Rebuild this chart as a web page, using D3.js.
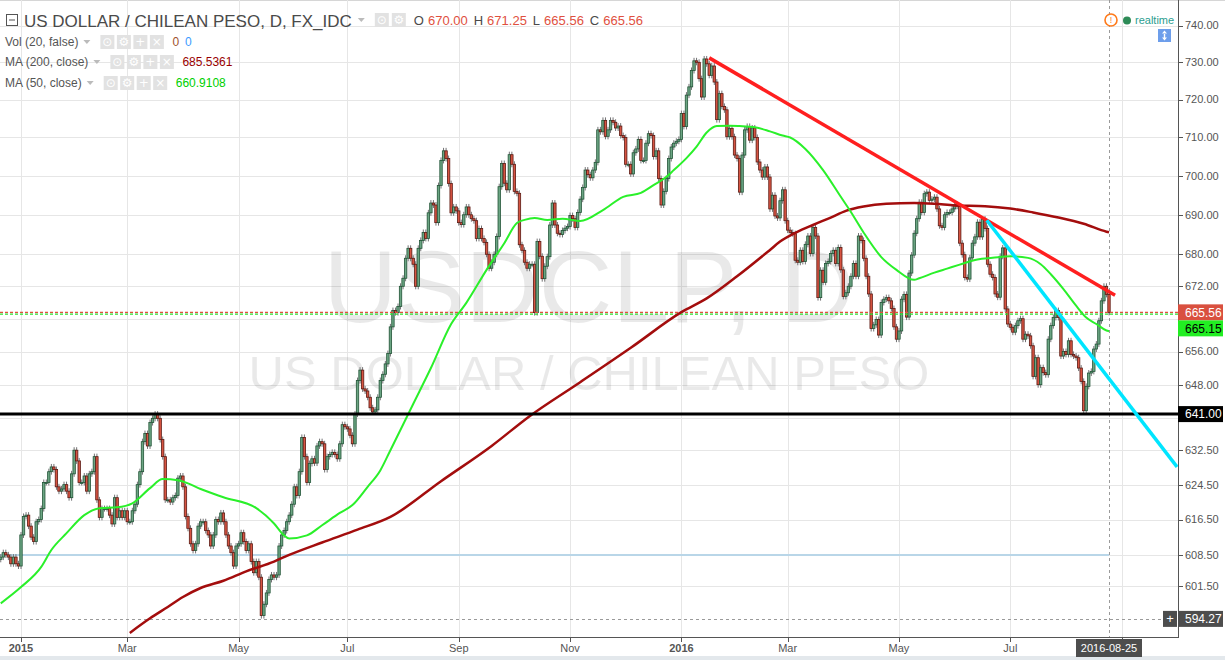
<!DOCTYPE html>
<html>
<head>
<meta charset="utf-8">
<script src="https://cdn.jsdelivr.net/npm/d3@7"></script>
<style>
  body { margin: 0; background: #fff; }
  svg { display: block; font-family: "Liberation Sans", Arial, sans-serif; }
</style>
</head>
<body>
<div id="chart"></div>
<script>
'use strict';

// Daily bars, one per weekday, starting Mon 2014-12-22. Open = previous close.
const firstBar = new Date(2014, 11, 22);
const firstOpen = 607.5;
const closes = [
  // Dec 2014
  608, 609, 608.5, 608, 606.5, 608, 606.5, 606,
  // Jan - Apr 2015
  613, 617.2, 617.5, 615, 612.5, 611.5, 616, 616.5, 619, 625,
  625, 627.5, 628.6, 628, 624, 623, 623.5, 624.5, 623, 621.5,
  627, 632.5, 630, 625, 625, 626.5, 623, 627, 627.5, 631,
  621, 617, 619, 619, 619, 617.5, 615.5, 621.5, 617, 618.5,
  617, 618.5, 616, 616, 618.5, 620, 624.5, 627.5, 634.5, 636.4,
  633.5, 639, 640, 641, 640, 635, 631, 621, 621, 620.5,
  621.5, 622, 626, 626.5, 624, 617.2, 614.5, 611, 609.5, 611,
  615,
  // Apr - Jul 2015
  616, 616, 614, 613, 610.5, 613, 616.5, 616, 618, 616,
  613, 610.5, 609, 606, 610.5, 611, 613.5, 611.5, 609.5, 611,
  607, 604.5, 607, 603.5, 595, 597.5, 600, 603, 604, 603.5,
  604, 610.5, 613, 614, 616, 617.5, 620, 624, 622, 627.5,
  635.5, 631, 625, 629.4, 630.5, 629.5, 633.5, 634.5, 634, 628,
  631, 631.5, 632, 631.5, 630.5, 634, 638.5, 638, 637.5, 636,
  634, 641, 649, 651.5, 647, 646.5, 645, 642.5, 641.5, 642,
  645, 649, 650.5, 653, 655.5,
  // Aug - Nov 2015
  662, 666, 665.5, 667, 672, 674, 679, 681.5, 679, 677.5,
  672, 681.5, 683.5, 685.5, 684, 690.5, 693, 692.5, 688, 697.5,
  704, 706.5, 704.5, 698, 690.5, 692, 691, 688, 687.5, 690,
  692, 690, 689, 688.5, 684, 686.5, 684, 683, 680, 676.5,
  678, 680, 684.5, 697.2, 703.2, 698.1, 696.4, 705.5, 703, 696,
  695.5, 682.4, 681, 678, 676.5, 677.5, 677.5, 665.5, 683.2, 679.5,
  673.9, 677, 679.4, 687.4, 693, 687.4, 685.3, 685, 686, 686.6,
  687, 689.8, 689, 686.8, 690.6,
  // Nov 2015 - Feb 2016
  694, 697, 701.5, 700.3, 699.5, 701.5, 703.5, 712, 711.5, 714.5,
  710.3, 712, 714.5, 714, 712.5, 713, 710.5, 710, 703, 703,
  700.5, 706, 707, 709.5, 704, 704, 708.5, 711, 710.5, 705,
  706.5, 699.3, 692.5, 696, 699.3, 704.5, 707.5, 708.5, 709, 709.5,
  716.3, 712.9, 721.2, 723.4, 727.8, 730.4, 730, 725.6, 720.7, 730.9,
  729.6, 726.5, 729, 724.7, 714.7, 721.6, 718.2, 717.3, 710.2, 712.4,
  710.2, 705.4, 704.5, 695.8, 705.4, 712, 712.9, 709.3, 712.5, 710,
  703.6, 701.5, 699.7, 702.3, 699.7, 691.5, 695, 689.7, 689.2, 693.6,
  696.4, 688.5, 686.1,
  // Mar - Jun 2016
  685.5, 685.2, 678.5, 678, 681, 678.2, 682.5, 684.6, 680.2, 686.8,
  684.6, 669.2, 676, 673, 677.7, 678.2, 680.2, 681, 677.7, 681.7,
  676.1, 669.5, 670.4, 672, 674.5, 677.7, 674.5, 684.6, 683.5, 679,
  674.5, 670.1, 661.6, 662.5, 663.8, 660, 668, 668.8, 669.2, 668.4,
  666.5, 662, 659, 661, 668.8, 670, 664.4, 675.3, 679.8, 685.3,
  689, 693.2, 690.6, 695.4, 695.8, 693.7, 694, 694.5, 691.5, 687.2,
  686.8, 690, 690.6, 690.6, 691.5, 692.6, 692.2,
  // Jun - Aug 2016
  682.8, 679.9, 674.2, 673.8, 679.1, 682.8, 684.4, 688.1, 684.4, 688.9,
  686.5, 677.5, 675, 674.2, 670.1, 669.3, 679.5, 681.6, 666.4, 662.7,
  661.9, 660.7, 662.3, 663.5, 664, 659, 660.2, 659.8, 657.4, 650,
  654.5, 648, 652.1, 650.9, 650.4, 659, 662.3, 664.3, 666, 664.3,
  654.9, 656, 655.3, 658.6, 655.3, 654.9, 654.5, 652, 648.8, 641.8,
  647.6, 650.8, 651.2, 656.6, 657.8, 663.5, 668.4, 672, 670, 665.56
];

// Moving averages: [bar number, value]
const ma50 = [
  [0, 597.7], [8, 601.3], [16, 605.8], [20, 609.6], [26, 613.4], [33, 617.5],
  [39, 619.1], [46, 619.3], [52, 620.2], [59, 623.7], [64, 625.8], [70, 625.5],
  [74, 624.8], [79, 623.5], [88, 621.6], [101, 619.1], [108, 615.6], [112, 612.9],
  [114, 612.2], [121, 612.9], [127, 615.2], [134, 618], [139, 619.8], [145, 624.0],
  [150, 627.8], [154, 632.5], [163, 643.4], [170, 652.0], [178, 662.7], [184, 667.9],
  [192, 676.1], [199, 682.8], [204, 687.9], [207, 688.7], [211, 689.2], [216, 688.7],
  [222, 689.0], [229, 688.4], [238, 691.2], [246, 694.6], [253, 695.6], [258, 697.6],
  [263, 699.7], [266, 701.5], [271, 704.6], [275, 707.6], [279, 711.3], [283, 713],
  [288, 713.1], [292, 713], [298, 712.7], [304, 711.6], [309, 710.5], [312, 710],
  [318, 707], [325, 701.5], [332, 694.6], [336, 690.7], [341, 685.5], [348, 679.3],
  [354, 676.1], [361, 673.6], [363, 674.0], [369, 675.4], [374, 676.4], [379, 677.4],
  [386, 678.7], [392, 679.1], [399, 679.5], [406, 679.1], [411, 677.5], [415, 675],
  [420, 671.3], [425, 667.2], [429, 664.3], [433, 662.7], [437, 661.1], [438, 660.91]
];
const ma200 = [
  [51, 591.2], [59, 594.4], [66, 596.9], [72, 599.1], [79, 601.1], [88, 602.7],
  [97, 604.8], [108, 607.0], [114, 608.5], [127, 611.3], [141, 614.2], [154, 617.1],
  [174, 625.3], [194, 633.5], [209, 640.5], [229, 648.6], [249, 656.9], [269, 665.6],
  [279, 669.0], [291, 674.5], [304, 681.1], [308, 683.2], [315, 685.7], [321, 687.4],
  [328, 689.3], [334, 691.0], [341, 692.1], [350, 692.8], [361, 693], [369, 692.8],
  [377, 692.4], [389, 692.2], [399, 691.6], [408, 690.6], [418, 689.3], [428, 687.7],
  [437, 685.7], [438, 685.54]
];

// Drawn trend lines and levels
const redTrend = [[280, 731.2], [440.4, 669.8]];
const cyanTrend = [[389.7, 688.6], [464.9, 628.6]];
const supportLevel = 641.00;
const rayLevel = 608.5;
const lastClose = 665.56;
const greenLevel = 665.15;
const crossLevel = 594.27;
const lastBar = 438;

const yTicks = [740, 730, 720, 710, 700, 690, 680, 672, 664, 656, 648, 640,
  632.5, 624.5, 616.5, 608.5, 601.5];
const hiddenTicks = [664, 640];

const ohlc = [['O', '670.00'], ['H', '671.25'], ['L', '665.56'], ['C', '665.56']];
const legendRows = [
  {label: 'Vol (20, false)', values: [['0', '#a0522d'], ['0', '#3d9bff']], base: 46},
  {label: 'MA (200, close)', values: [['685.5361', '#990000']], base: 66},
  {label: 'MA (50, close)', values: [['660.9108', '#00d000']], base: 87}
];

const W = 1225, H = 660, plotR = 1178, plotB = 637;
const axisColor = '#555';
const labelFont = 11;

const svg = d3.select('#chart').append('svg')
  .attr('width', W).attr('height', H);

const x = d3.scaleLinear().domain([8, lastBar]).range([21, 1109]);
const y = d3.scaleLog().domain([crossLevel, 740]).range([618.9, 25.5]);

// weekday calendar for the bars (and a few beyond, for the axis)
const dates = [];
for (let d = new Date(firstBar); dates.length < 470; d.setDate(d.getDate() + 1)) {
  if (d.getDay() % 6 !== 0) dates.push(new Date(d));
}
// one tick every second month: Jan, Mar, May, Jul, Sep, Nov
const monthTicks = [];
for (let k = 1; k < dates.length; k++) {
  const m = dates[k].getMonth();
  if (m !== dates[k - 1].getMonth() && m % 2 === 0 && x(k) < plotR) {
    monthTicks.push(k);
  }
}

svg.append('rect').attr('width', W).attr('height', H).attr('fill', '#fff');
svg.append('rect').attr('y', 656).attr('width', W).attr('height', 4)
  .attr('fill', '#e3e8ec');
svg.append('line').attr('x1', 0).attr('x2', W).attr('y1', 0.5).attr('y2', 0.5)
  .attr('stroke', '#d6d6d6');

// grid
const grid = svg.append('g').attr('stroke', '#e6e6e6').attr('stroke-width', 1);
grid.selectAll('line.h').data(yTicks).join('line')
  .attr('x1', 0).attr('x2', plotR)
  .attr('y1', d => Math.round(y(d)) + 0.5).attr('y2', d => Math.round(y(d)) + 0.5);
grid.selectAll('line.v').data(monthTicks).join('line')
  .attr('y1', 0).attr('y2', plotB)
  .attr('x1', d => Math.round(x(d)) + 0.5).attr('x2', d => Math.round(x(d)) + 0.5);

// watermark
svg.append('text')
  .attr('x', plotR / 2).attr('y', 322)
  .attr('text-anchor', 'middle')
  .attr('font-size', 102)
  .attr('fill', 'rgba(0,0,0,0.085)')
  .text('USDCLP, D');
svg.append('text')
  .attr('x', plotR / 2).attr('y', 390)
  .attr('text-anchor', 'middle')
  .attr('font-size', 49)
  .attr('fill', 'rgba(0,0,0,0.085)')
  .text('US DOLLAR / CHILEAN PESO');

svg.append('clipPath').attr('id', 'plotClip')
  .append('rect').attr('width', plotR).attr('height', plotB);
const plot = svg.append('g').attr('clip-path', 'url(#plotClip)');

// light blue horizontal ray
plot.append('line')
  .attr('x1', 0).attr('x2', x(lastBar))
  .attr('y1', y(rayLevel)).attr('y2', y(rayLevel))
  .attr('stroke', '#b9d6e8').attr('stroke-width', 2);

// crosshair
plot.append('line')
  .attr('x1', 0).attr('x2', 1163)
  .attr('y1', Math.round(y(crossLevel)) + 0.5).attr('y2', Math.round(y(crossLevel)) + 0.5)
  .attr('stroke', '#9a9a9a').attr('stroke-dasharray', '3,3');
plot.append('line')
  .attr('x1', Math.round(x(lastBar)) + 0.5).attr('x2', Math.round(x(lastBar)) + 0.5)
  .attr('y1', 0).attr('y2', plotB)
  .attr('stroke', '#9a9a9a').attr('stroke-dasharray', '3,3');

// candles
const bars = closes.map((c, k) => ({k, o: k ? closes[k - 1] : firstOpen, c}));
const candle = plot.append('g').selectAll('g').data(bars).join('g');
candle.append('line')
  .attr('x1', d => x(d.k)).attr('x2', d => x(d.k))
  .attr('y1', d => y(Math.max(d.o, d.c)) - 3)
  .attr('y2', d => y(Math.min(d.o, d.c)) + 3)
  .attr('stroke', '#737375').attr('stroke-width', 1);
candle.append('rect')
  .attr('x', d => x(d.k) - 1.2)
  .attr('width', 2.4)
  .attr('y', d => y(Math.max(d.o, d.c)))
  .attr('height', d => Math.max(1, y(Math.min(d.o, d.c)) - y(Math.max(d.o, d.c))))
  .attr('fill', d => d.c >= d.o ? '#6ba583' : '#d75442')
  .attr('stroke', d => d.c >= d.o ? '#225437' : '#5b1a13')
  .attr('stroke-width', 0.8);

// last price lines
plot.append('line')
  .attr('x1', 0).attr('x2', plotR)
  .attr('y1', y(lastClose)).attr('y2', y(lastClose))
  .attr('stroke', '#e0503e').attr('stroke-width', 1.2).attr('stroke-dasharray', '3,2');
plot.append('line')
  .attr('x1', 0).attr('x2', plotR)
  .attr('y1', y(greenLevel)).attr('y2', y(greenLevel))
  .attr('stroke', '#2ee02e').attr('stroke-width', 1.2).attr('stroke-dasharray', '3,2');

// moving averages
const maLine = d3.line()
  .x(d => x(d[0]))
  .y(d => y(d[1]))
  .curve(d3.curveMonotoneX);
plot.append('path').attr('d', maLine(ma200))
  .attr('fill', 'none').attr('stroke', '#a30d0d').attr('stroke-width', 2.5);
plot.append('path').attr('d', maLine(ma50))
  .attr('fill', 'none').attr('stroke', '#2af02a').attr('stroke-width', 2);

// support and trend lines
plot.append('line')
  .attr('x1', 0).attr('x2', plotR)
  .attr('y1', y(supportLevel)).attr('y2', y(supportLevel))
  .attr('stroke', '#000').attr('stroke-width', 3);
const straight = d3.line().x(d => x(d[0])).y(d => y(d[1]));
plot.append('path').attr('d', straight(redTrend))
  .attr('stroke', '#ff1f1f').attr('stroke-width', 3.5).attr('fill', 'none');
plot.append('path').attr('d', straight(cyanTrend))
  .attr('stroke', '#00e5ff').attr('stroke-width', 3.5).attr('fill', 'none');

// right price axis
svg.append('line')
  .attr('x1', plotR + 0.5).attr('x2', plotR + 0.5).attr('y1', 0).attr('y2', plotB + 1)
  .attr('stroke', axisColor);
const yAxis = svg.append('g');
yAxis.selectAll('line').data(yTicks).join('line')
  .attr('x1', plotR).attr('x2', plotR + 5)
  .attr('y1', d => Math.round(y(d)) + 0.5).attr('y2', d => Math.round(y(d)) + 0.5)
  .attr('stroke', axisColor);
yAxis.selectAll('text').data(yTicks.filter(t => !hiddenTicks.includes(t))).join('text')
  .attr('x', plotR + 7).attr('y', d => y(d)).attr('dy', '0.35em')
  .attr('font-size', labelFont).attr('fill', axisColor)
  .text(d => d3.format('.2f')(d));

// bottom time axis
svg.append('line')
  .attr('x1', 0).attr('x2', plotR + 1).attr('y1', plotB + 0.5).attr('y2', plotB + 0.5)
  .attr('stroke', axisColor);
const xAxis = svg.append('g');
xAxis.selectAll('line').data(monthTicks).join('line')
  .attr('x1', d => Math.round(x(d)) + 0.5).attr('x2', d => Math.round(x(d)) + 0.5)
  .attr('y1', plotB).attr('y2', plotB + 5)
  .attr('stroke', axisColor);
xAxis.selectAll('text').data(monthTicks.filter(k => x(k) < 1070)).join('text')
  .attr('x', d => x(d)).attr('y', 652)
  .attr('text-anchor', 'middle')
  .attr('font-size', labelFont)
  .attr('font-weight', d => dates[d].getMonth() === 0 ? 'bold' : 'normal')
  .attr('fill', axisColor)
  .text(d => dates[d].getMonth() === 0 ? dates[d].getFullYear() : d3.timeFormat('%b')(dates[d]));

// price label boxes on the axis
function priceBox(top, fill, color, label) {
  svg.append('rect').attr('x', plotR).attr('y', top).attr('width', 45).attr('height', 16)
    .attr('fill', fill);
  svg.append('text').attr('x', plotR + 7).attr('y', top + 8).attr('dy', '0.35em')
    .attr('font-size', 12).attr('fill', color).text(label);
}
priceBox(y(lastClose) - 8, '#d9503f', '#fff', '665.56');
priceBox(y(lastClose) + 8, '#22ee22', '#000', '665.15');
priceBox(y(supportLevel) - 8, '#000', '#fff', '641.00');
priceBox(y(crossLevel) - 8, '#4d4d4d', '#fff', '594.27');
svg.append('rect').attr('x', plotR - 15).attr('y', y(crossLevel) - 8)
  .attr('width', 14).attr('height', 16).attr('fill', '#4d4d4d');
svg.append('text').attr('x', plotR - 8).attr('y', y(crossLevel)).attr('dy', '0.35em')
  .attr('text-anchor', 'middle').attr('font-size', 13).attr('fill', '#fff').text('+');
svg.append('rect').attr('x', x(lastBar) - 33).attr('y', 639)
  .attr('width', 66).attr('height', 18).attr('fill', '#4d4d4d');
svg.append('text').attr('x', x(lastBar)).attr('y', 648).attr('dy', '0.35em')
  .attr('text-anchor', 'middle').attr('font-size', labelFont).attr('fill', '#fff')
  .text(d3.timeFormat('%Y-%m-%d')(dates[lastBar]));

// legend
function iconBoxes(x0, midY, count, step) {
  const glyphs = ['\u2299', '\u2699', '+', '\u00d7'];
  for (let i = 0; i < count; i++) {
    svg.append('rect').attr('x', x0 + i * step).attr('y', midY - 7)
      .attr('width', 14).attr('height', 14).attr('fill', '#e2e2e2');
    svg.append('text').attr('x', x0 + i * step + 7).attr('y', midY).attr('dy', '0.35em')
      .attr('text-anchor', 'middle').attr('font-size', 12)
      .attr('font-family', 'DejaVu Sans').attr('fill', '#fff')
      .text(glyphs[i]);
  }
}
function dropArrow(x0, midY) {
  svg.append('path')
    .attr('d', `M${x0},${midY - 2}h7l-3.5,4z`)
    .attr('fill', '#bbb');
}

svg.append('rect').attr('x', 6.5).attr('y', 14.5).attr('width', 11).attr('height', 11)
  .attr('fill', 'none').attr('stroke', '#555');
svg.append('line').attr('x1', 9).attr('x2', 15).attr('y1', 20).attr('y2', 20)
  .attr('stroke', '#555');
const title = svg.append('text').attr('x', 24).attr('y', 27)
  .attr('font-size', 17).attr('fill', '#4a4a4a')
  .text('US DOLLAR / CHILEAN PESO, D, FX_IDC');
const titleEnd = 24 + title.node().getComputedTextLength();
dropArrow(titleEnd + 6, 20);
iconBoxes(titleEnd + 23, 20, 2, 17);
const ohlcText = svg.append('text').attr('x', titleEnd + 62).attr('y', 25)
  .attr('font-size', 13);
ohlc.forEach(([k, v], i) => {
  ohlcText.append('tspan').attr('fill', '#4a4a4a').attr('dx', i ? 6 : 0).text(k);
  ohlcText.append('tspan').attr('fill', '#e0503e').attr('dx', 4).text(v);
});

legendRows.forEach(row => {
  const t = svg.append('text').attr('x', 5).attr('y', row.base)
    .attr('font-size', 12).attr('fill', '#555').text(row.label);
  const end = 5 + t.node().getComputedTextLength();
  const mid = row.base - 4;
  dropArrow(end + 5, mid);
  iconBoxes(end + 22, mid, 4, 16.5);
  const v = svg.append('text').attr('x', end + 94).attr('y', row.base).attr('font-size', 12);
  row.values.forEach(([val, color], i) => {
    v.append('tspan').attr('fill', color).attr('dx', i ? 6 : 0).text(val);
  });
});

// realtime badge, top right
svg.append('circle').attr('cx', 1111).attr('cy', 20).attr('r', 6)
  .attr('fill', '#fff').attr('stroke', '#ff7a1a').attr('stroke-width', 1.6);
svg.append('text').attr('x', 1111).attr('y', 20).attr('dy', '0.35em')
  .attr('text-anchor', 'middle').attr('font-size', 9).attr('fill', '#ff7a1a').text('!');
svg.append('circle').attr('cx', 1127).attr('cy', 20.5).attr('r', 4).attr('fill', '#2e8b57');
svg.append('text').attr('x', 1135).attr('y', 24)
  .attr('font-size', 11).attr('fill', '#2a9d8f').text('realtime');
svg.append('rect').attr('x', 1158).attr('y', 29).attr('width', 13).attr('height', 13)
  .attr('fill', '#6d9eeb');
svg.append('path')
  .attr('d', 'M1164.5,30.5l-2.5,3h5zM1164.5,40.5l-2.5,-3h5zM1163.8,33h1.4v5h-1.4z')
  .attr('fill', '#fff');
</script>
</body>
</html>
